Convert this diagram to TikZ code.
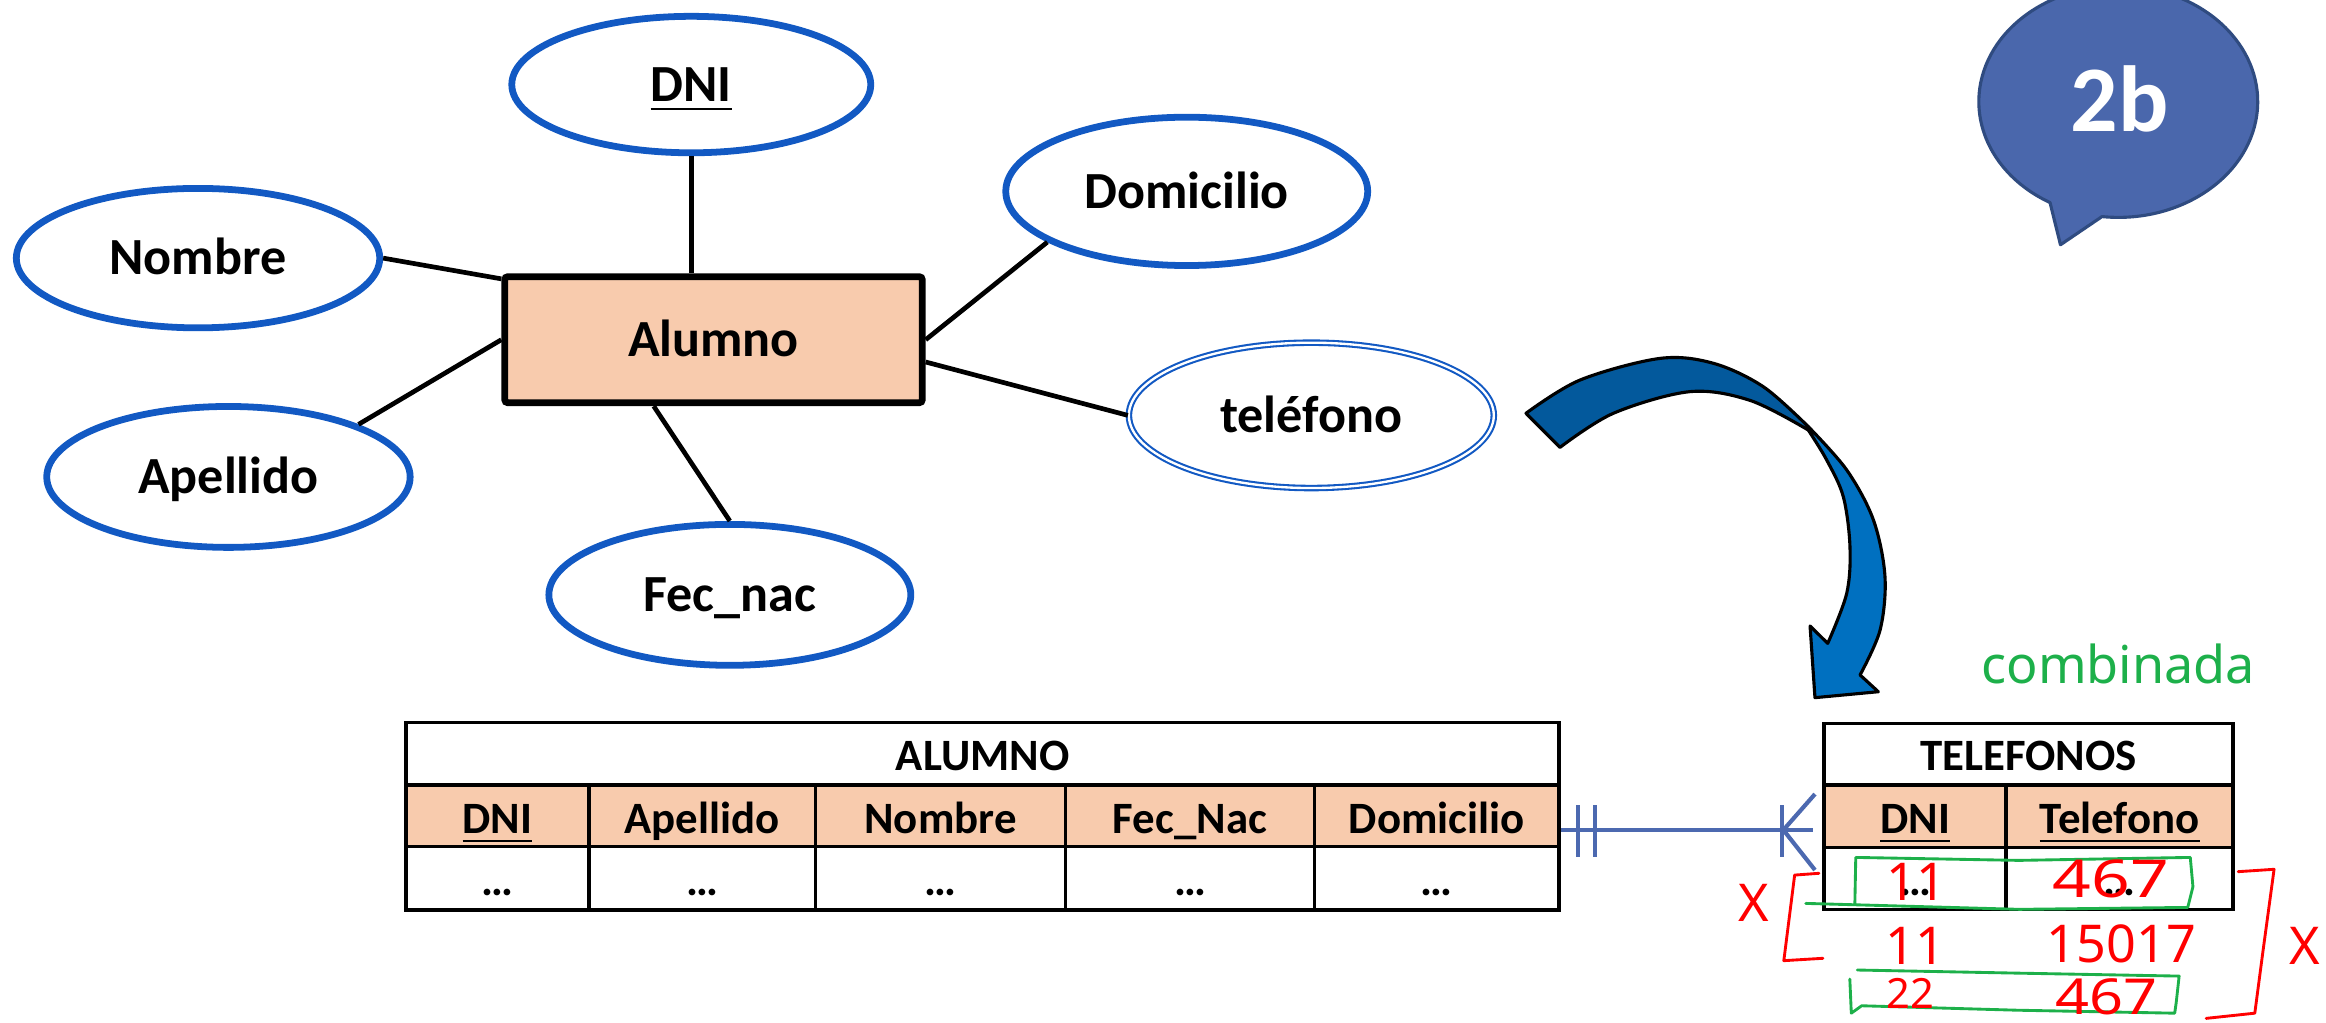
\documentclass[tikz,border=0pt]{standalone}
\usepackage{fontspec}
\setmainfont{Carlito}
\newfontfamily\handfont{Noto Sans}
\usetikzlibrary{shapes.geometric}

\definecolor{erblue}{HTML}{1259C3}
\definecolor{peach}{HTML}{F8CBAD}
\definecolor{bubblefill}{HTML}{4A67AC}
\definecolor{bubbleedge}{HTML}{2F4B80}
\definecolor{arrowdark}{HTML}{03599C}
\definecolor{arrowlight}{HTML}{0070C0}
\definecolor{relblue}{HTML}{4C69B0}
\definecolor{inkgreen}{HTML}{1DB04A}
\definecolor{inkred}{HTML}{FF0000}

\begin{document}
\begin{tikzpicture}[x=0.1mm, y=-0.1mm,
  attr/.style={ellipse, draw=erblue, line width=1.3pt, fill=white, inner sep=0pt,
    font=\bfseries\fontsize{10}{12}\selectfont, text height=6.4pt, text depth=0pt},
  multiattr/.style={attr, line width=0.4pt, double=white, double distance=0.45pt},
  entity/.style={rectangle, draw=black, line width=1.3pt, fill=peach, rounded corners=0.6pt,
    inner sep=0pt, font=\bfseries\fontsize{10}{12}\selectfont, text height=6.4pt, text depth=0pt},
  conn/.style={draw=black, line width=0.9pt},
  tabframe/.style={rectangle, draw=black, line width=0.65pt, inner sep=0pt},
  tabline/.style={draw=black, line width=0.65pt},
  tabtext/.style={anchor=base, inner sep=0pt, font=\bfseries\fontsize{8.6}{10}\selectfont},
  rel/.style={draw=relblue, line width=0.8pt},
  ink/.style={line width=0.55pt, line cap=round, line join=round},
  handtxt/.style={anchor=base, inner sep=0pt, font=\handfont\fontsize{10}{12}\selectfont},
]
\useasboundingbox (0,0) rectangle (1568,689);

% ---------- speech bubble ----------
\filldraw[fill=bubblefill, draw=bubbleedge, line width=0.6pt, line join=round]
  (1389,165) -- (1417,146) arc[start angle=96.7, end angle=-240.7, x radius=94, y radius=78] -- cycle;
\node[anchor=base, inner sep=0pt, text=white, font=\bfseries\fontsize{18}{20}\selectfont] (tag) at (1429,88.8) {2b};

% ---------- ER diagram ----------
\node[entity, minimum width=28.15mm, minimum height=8.5mm] (alumno) at (481,229) {Alumno};
\node[attr, minimum width=24.2mm, minimum height=9.2mm] (dni) at (466,57) {\underline{DNI}};
\node[attr, minimum width=24.5mm, minimum height=9.4mm] (nombre) at (133.5,174) {Nombre};
\node[attr, minimum width=24.5mm, minimum height=9.5mm] (apellido) at (154,321.5) {Apellido};
\node[attr, minimum width=24.4mm, minimum height=9.5mm] (fecnac) at (492,401) {Fec\_nac};
\node[attr, minimum width=24.4mm, minimum height=10mm] (domicilio) at (800,129) {Domicilio};
\node[multiattr, minimum width=24.6mm, minimum height=9.8mm] (telefono) at (884,280) {teléfono};

\draw[conn] (dni.south) -- (dni.south |- alumno.north);
\draw[conn] (nombre.east) -- (alumno.164);
\draw[conn] (apellido.22) -- (alumno.west);
\draw[conn] (alumno.228) -- (fecnac.north);
\draw[conn] (alumno.east) -- (domicilio.200);
\draw[conn] (alumno.-6) -- (telefono.west);

% ---------- curved arrow ----------
\filldraw[fill=arrowdark, draw=black, line width=0.6pt, line join=round]
  plot[smooth, tension=0.55] coordinates {(1028.7,278.6) (1065.1,256.2) (1119.0,241.6) (1155,244.9) (1188.7,260.7) (1219.0,287.6)}
  -- plot[smooth, tension=0.55] coordinates {(1219,289.9) (1180,270) (1139.3,264.0) (1087.6,278.6) (1051.6,301.6)}
  -- cycle;
\filldraw[fill=arrowlight, draw=black, line width=0.6pt, line join=round]
  plot[smooth, tension=0.55] coordinates {(1219.0,287.6) (1244.9,316.8) (1262.9,350.5) (1270.7,388.7) (1267.4,424.7) (1253.9,455.0)}
  -- (1266.2,466.3) -- (1223.5,470.3) -- (1220.2,422) -- (1232.1,433.7)
  -- plot[smooth, tension=0.55] coordinates {(1232.1,433.7) (1244.9,400) (1247.1,368.5) (1242.6,334.8) (1231.4,310.1) (1219,289.9)}
  -- cycle;

% ---------- table ALUMNO ----------
\fill[peach] (273.7,529.2) rectangle (1051,570.8);
\node[tabframe, minimum width=77.73mm, minimum height=12.62mm] (tabA) at (662.35,550.3) {};
\draw[tabline] (273.7,529.2) -- (1051,529.2) (273.7,570.8) -- (1051,570.8);
\foreach \cx in {397.1,549.7,718.4,886} \draw[tabline] (\cx,529.2) -- (\cx,613.4);
\node[tabtext] (tA) at (662.4,519.5) {ALUMNO};
\node[tabtext] (hA1) at (335.4,561.8) {\underline{DNI}};
\node[tabtext] (hA2) at (473.4,561.8) {Apellido};
\node[tabtext] (hA3) at (634,561.8) {Nombre};
\node[tabtext] (hA4) at (802.2,561.8) {Fec\_Nac};
\node[tabtext] (hA5) at (968.5,561.8) {Domicilio};
\node[tabtext] (dA1) at (335.4,603.4) {…};
\node[tabtext] (dA2) at (473.4,603.4) {…};
\node[tabtext] (dA3) at (634,603.4) {…};
\node[tabtext] (dA4) at (802.2,603.4) {…};
\node[tabtext] (dA5) at (968.5,603.4) {…};

% ---------- table TELEFONOS ----------
\fill[peach] (1229.5,529.2) rectangle (1505.3,571.4);
\node[tabframe, minimum width=27.58mm, minimum height=12.54mm] (tabT) at (1367.4,550.3) {};
\draw[tabline] (1229.5,529.2) -- (1505.3,529.2) (1229.5,571.4) -- (1505.3,571.4);
\draw[tabline] (1352.4,529.2) -- (1352.4,613);
\node[tabtext] (tT) at (1367.4,519.5) {TELEFONOS};
\node[tabtext] (hT1) at (1291,561.8) {\underline{DNI}};
\node[tabtext] (hT2) at (1428.9,561.8) {\underline{Telefono}};
\node[tabtext] (dT1) at (1291,603.4) {…};
\node[tabtext] (dT2) at (1428.9,603.4) {…};

% ---------- relationship line (one to many) ----------
\coordinate (crow) at (1202.2,559.5);
\coordinate (crowend) at (1222.3,559.5);
\draw[rel] (tabA.east |- crowend) -- (crowend);
\draw[rel] (1063.5,542.7) -- (1063.5,577.5) (1075.2,542.7) -- (1075.2,577.5);
\draw[rel] (1201.1,542.7) -- (1201.1,577.5);
\draw[rel] (crow) -- (1223.5,535.3) (crow) -- (1223.5,586.5);

% ---------- hand annotations ----------
\node[handtxt, text=inkgreen] (comb) at (1428,461) {combinada};
\draw[ink, draw=inkgreen] (1250.4,609) -- (1251,578) -- (1361,580) -- (1476.5,578)
  -- (1478.3,597.7) -- (1474.8,611.7) -- (1361.3,613) -- (1217.3,609);
\draw[ink, draw=inkgreen] (1252,653.9) -- (1360,656) -- (1469,658) -- (1467,676) -- (1466,683)
  -- (1360,681) -- (1255,678) -- (1248,683) -- (1247,660);
\draw[ink, draw=inkred] (1226.2,588.7) -- (1209.8,589.9) -- (1202.5,647.6) -- (1228.9,646);
\draw[ink, draw=inkred] (1508.8,587.6) -- (1533,586) -- (1525.4,642) -- (1520,683) -- (1487.2,686.5);
\node[handtxt, text=inkred] (r1a) at (1292,607) {11};
\node[handtxt, text=inkred, xscale=1.3] (r1b) at (1423,605) {467};
\node[handtxt, text=inkred] (r2a) at (1291,650) {11};
\node[handtxt, text=inkred] (r2b) at (1430,649) {15017};
\node[handtxt, text=inkred, font=\handfont\fontsize{8}{10}\selectfont] (r3a) at (1288,680) {22};
\node[handtxt, text=inkred, xscale=1.2, font=\handfont\fontsize{9.5}{11}\selectfont] (r3b) at (1420,684) {467};
\node[handtxt, text=inkred] (xl) at (1182.5,621) {X};
\node[handtxt, text=inkred] (xr) at (1553.5,650.5) {X};
\end{tikzpicture}
\end{document}
